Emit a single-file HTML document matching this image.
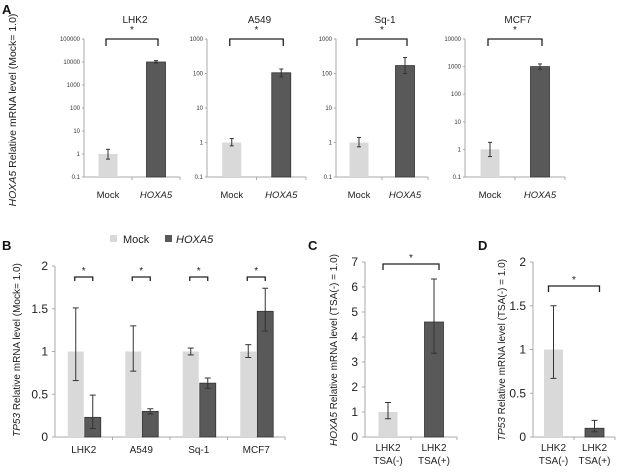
<!DOCTYPE html>
<html><head><meta charset="utf-8"><style>
body{margin:0;background:#fff;width:620px;height:468px;overflow:hidden}
svg{font-family:"Liberation Sans",Arial,sans-serif}
</style></head><body>
<svg id="fig" width="620" height="468" viewBox="0 0 620 468"></svg>
<script>
// Panel A data
const aTitles=["LHK2","A549","Sq-1","MCF7"];
const aMock=[1,1,1,1];
const aMockLo=[0.6,0.8,0.75,0.55];
const aMockHi=[1.6,1.3,1.4,1.8];
const aHox=[10000,105,170,1000];
const aHoxLo=[9000,80,100,800];
const aHoxHi=[11500,135,290,1250];
const aMaxExp=[5,3,3,4];
// Panel B data
const bCats=["LHK2","A549","Sq-1","MCF7"];
const bMock=[1,1,1,1];
const bMockLo=[0.66,0.77,0.96,0.93];
const bMockHi=[1.51,1.3,1.04,1.08];
const bHox=[0.23,0.3,0.63,1.47];
const bHoxLo=[0.1,0.27,0.57,1.24];
const bHoxHi=[0.49,0.33,0.69,1.74];
const bTicks=["0","0.5","1","1.5","2"];
// Panel C data
const cVals=[1,4.6];
const cLo=[0.73,3.35];
const cHi=[1.38,6.32];
const cTicks=["0","1","2","3","4","5","6","7"];
// Panel D data
const dVals=[1,0.1];
const dLo=[0.67,0.06];
const dHi=[1.5,0.19];
const dTicks=["0","0.5","1","1.5","2"];

const NS="http://www.w3.org/2000/svg";
const svg=document.getElementById('fig');
function el(tag,attrs,parent){const e=document.createElementNS(NS,tag);for(const k in attrs)e.setAttribute(k,attrs[k]);(parent||svg).appendChild(e);return e;}
function txt(s,attrs,parent){const e=el('text',attrs,parent);e.textContent=s;return e;}
const LIGHT="#d9d9d9",DARK="#595959",AX="#aaa";

function errbar(g,x,y1,y2,w){
  const e=el('g',{},g);
  
  
  el('line',{x1:x,x2:x,y1:y1,y2:y2,stroke:'#333','stroke-width':1},e);
  el('line',{x1:x-w,x2:x+w,y1:y1,y2:y1,stroke:'#333','stroke-width':1},e);
  el('line',{x1:x-w,x2:x+w,y1:y2,y2:y2,stroke:'#333','stroke-width':1},e);
}
function bracket(g,x1,x2,y,drop,sy){
  const b=el('path',{d:`M${x1},${y+drop}V${y}H${x2}V${y+drop}`,fill:'none',stroke:'#222','stroke-width':1.3},g);
  
  
  const s=txt('*',{x:(x1+x2)/2,y:sy,'font-size':10,'text-anchor':'middle',fill:'#222'},g);
  
  
}
function panelLetter(s,x,y){const t=txt(s,{x:x,y:y,'font-size':13,'font-weight':'bold',fill:'#111'});
  
  }
function ylabel(parts,x,y,fs){const t=el('text',{transform:`translate(${x},${y}) rotate(-90)`,'font-size':fs,'text-anchor':'middle',fill:'#222'});
  
  
  parts.forEach(p=>{const s=el('tspan',p[1]?{'font-style':'italic'}:{},t);s.textContent=p[0];});}

panelLetter('A',2,14);panelLetter('B',2,250);panelLetter('C',308,250);panelLetter('D',478,250);

// Panel A
const aAxisX=[84,207,336,465], aEnd=[180,306,428,565];
const aTop=39,aBot=177;
ylabel([["HOXA5",1],[" Relative mRNA level (Mock= 1.0)",0]],16,110,10.5);
aTitles.forEach((t,i)=>{
  const g=el('g',{});
  
  
  const x0=aAxisX[i],x1=aEnd[i],mx=aMaxExp[i];
  const y=v=>aBot-(Math.log10(v)+1)/(mx+1)*(aBot-aTop);
  const cw=(x1-x0)/2;
  const cx=k=>x0+cw*(k+0.5);
  for(let e=-1;e<=mx;e++){
    const yy=y(Math.pow(10,e));
    const lab=e<0?"0.1":String(Math.pow(10,e));
    const tl=txt(lab,{x:x0-4,y:yy+2,'font-size':6,'text-anchor':'end',fill:'#333'},g);
    
    
    el('line',{x1:x0-2,x2:x0,y1:yy,y2:yy,stroke:AX},g);
  }
  el('line',{x1:x0,x2:x0,y1:aTop,y2:aBot,stroke:AX},g);
  el('line',{x1:x0,x2:x1,y1:aBot,y2:aBot,stroke:AX},g);
  el('line',{x1:x0+cw,x2:x0+cw,y1:aBot,y2:aBot+3,stroke:AX},g);
  el('line',{x1:x1,x2:x1,y1:aBot,y2:aBot+3,stroke:AX},g);
  const bw=19;
  const b1=el('rect',{x:cx(0)-bw/2,y:y(aMock[i]),width:bw,height:aBot-y(aMock[i]),fill:LIGHT},g);
  
  const b2=el('rect',{x:cx(1)-bw/2,y:y(aHox[i]),width:bw,height:aBot-y(aHox[i]),fill:DARK,stroke:'#333','stroke-width':0.8},g);
  
  errbar(g,cx(0),y(aMockHi[i]),y(aMockLo[i]),2);
  errbar(g,cx(1),y(aHoxHi[i]),y(aHoxLo[i]),2);
  bracket(g,cx(0)-2,cx(1)+2,aTop,7,33);
  const tt=txt(t,{x:(x0+x1)/2+3,y:23,'font-size':10,'text-anchor':'middle',fill:'#222'},g);
  
  const l1=txt('Mock',{x:cx(0),y:198,'font-size':9.5,'text-anchor':'middle',fill:'#222'},g);
  
  const l2=txt('HOXA5',{x:cx(1),y:198,'font-size':9.5,'text-anchor':'middle','font-style':'italic',fill:'#222'},g);
  
});

// generic linear panel
function linear(opt){
  const g=el('g',{});
  
  
  const {x0,x1,top,bot,max}=opt;
  const y=v=>bot-v/max*(bot-top);
  opt.ticks.forEach(t=>{const v=parseFloat(t);const yy=y(v);
    const tl=txt(t,{x:x0-7,y:yy+4,'font-size':12,'text-anchor':'end',fill:'#222'},g);
    
    el('line',{x1:x0-3,x2:x0,y1:yy,y2:yy,stroke:AX},g);});
  el('line',{x1:x0,x2:x0,y1:top,y2:bot,stroke:AX},g);
  el('line',{x1:x0,x2:x1,y1:bot,y2:bot,stroke:AX},g);
  return {g,y};
}

// Panel B
ylabel([["TP53",1],[" Relative mRNA level (Mock= 1.0)",0]],20,350,10);
{
  const P=linear({name:'panel-b-chart',x0:55,x1:285,top:266,bot:437,max:2,ticks:bTicks});
  const cw=(285-55)/bCats.length,bw=16;
  bCats.forEach((c,i)=>{
    const cx=55+cw*(i+0.5);
    el('line',{x1:55+cw*(i+1),x2:55+cw*(i+1),y1:437,y2:440,stroke:AX},P.g);
    const r1=el('rect',{x:cx-bw,y:P.y(bMock[i]),width:bw,height:437-P.y(bMock[i]),fill:LIGHT},P.g);
    
    const r2=el('rect',{x:cx+1,y:P.y(bHox[i]),width:bw,height:437-P.y(bHox[i]),fill:DARK,stroke:'#333','stroke-width':0.8},P.g);
    
    errbar(P.g,cx-bw/2,P.y(bMockHi[i]),P.y(bMockLo[i]),3);
    errbar(P.g,cx+1+bw/2,P.y(bHoxHi[i]),P.y(bHoxLo[i]),3);
    bracket(P.g,cx-9,cx+9,277,4,274);
    const l=txt(c,{x:cx,y:453,'font-size':10,'text-anchor':'middle',fill:'#222'},P.g);
    
  });
  const lg=el('g',{});
  const e1=el('g',{},lg);
  el('rect',{x:110,y:235,width:7,height:7,fill:LIGHT},e1);
  txt('Mock',{x:123,y:243,'font-size':11,fill:'#222'},e1);
  const e2=el('g',{},lg);
  el('rect',{x:165,y:235,width:7,height:7,fill:DARK},e2);
  txt('HOXA5',{x:176,y:243,'font-size':11,'font-style':'italic',fill:'#222'},e2);
}

// Panel C and D
function twoBar(name,x0,x1,max,ticks,vals,lo,hi,by,bdrop,sy){
  const P=linear({name,x0,x1,top:262,bot:437,max,ticks});
  const cw=(x1-x0)/2,bw=19;
  el('line',{x1:x0+cw,x2:x0+cw,y1:437,y2:440,stroke:AX},P.g);
  el('line',{x1:x1,x2:x1,y1:437,y2:440,stroke:AX},P.g);
  const cxs=[];
  vals.forEach((v,i)=>{
    const cx=x0+cw*(i+0.5);cxs.push(cx);
    const r=el('rect',{x:cx-bw/2,y:P.y(v),width:bw,height:437-P.y(v),fill:i?DARK:LIGHT,stroke:i?'#333':'none','stroke-width':0.8},P.g);
    
    errbar(P.g,cx,P.y(hi[i]),P.y(lo[i]),3);
    const l1=txt('LHK2',{x:cx,y:451,'font-size':10,'text-anchor':'middle',fill:'#222'},P.g);
    
    const l2=txt(i?'TSA(+)':'TSA(-)',{x:cx,y:464,'font-size':10,'text-anchor':'middle',fill:'#222'},P.g);
    
  });
  bracket(P.g,cxs[0]-5,cxs[1]+5,by,bdrop,sy);
}
ylabel([["HOXA5",1],[" Relative mRNA level (TSA(-) = 1.0)",0]],337,350,10);
twoBar('panel-c-chart',365,457,7,cTicks,cVals,cLo,cHi,264,6,261);
ylabel([["TP53",1],[" Relative mRNA level (TSA(-) = 1.0)",0]],505,350,10);
twoBar('panel-d-chart',533,615,2,dTicks,dVals,dLo,dHi,286,6,283);
</script>
</body></html>
